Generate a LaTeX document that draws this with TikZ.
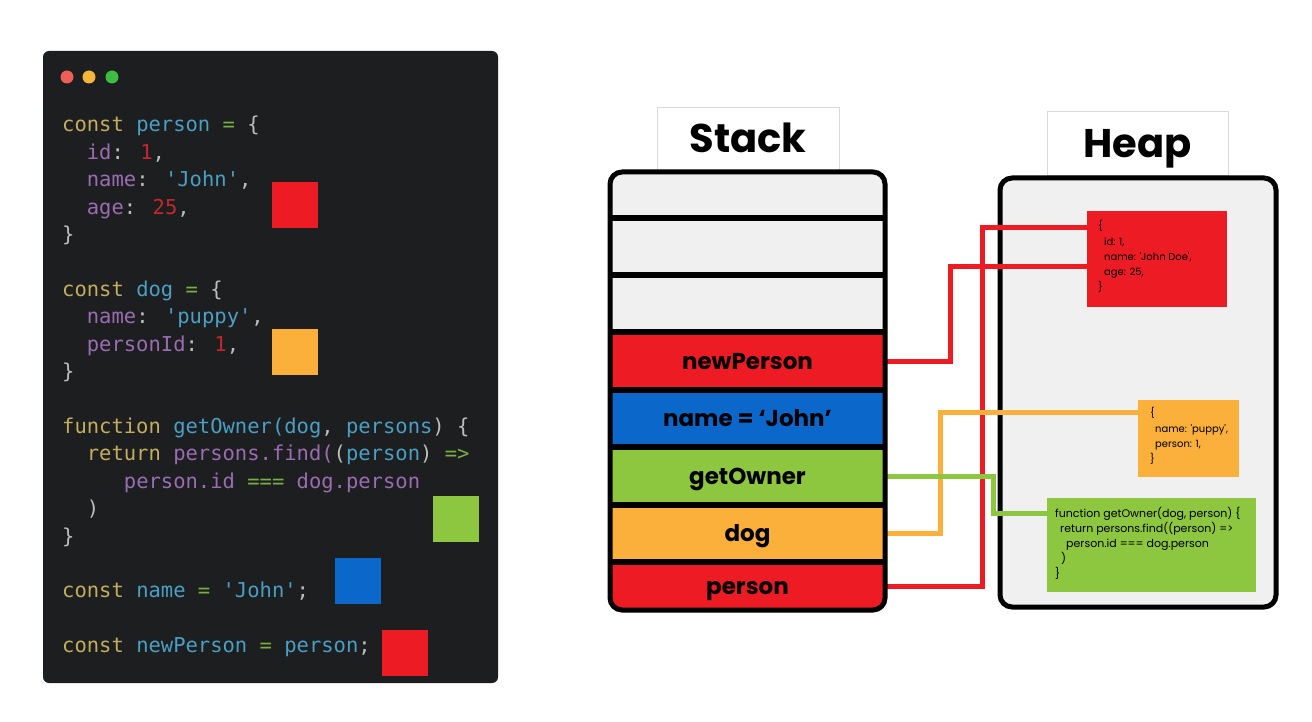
\documentclass[tikz,border=0pt]{standalone}
\usepackage{fontspec}
\usetikzlibrary{calc}
\newfontfamily\codefont{DejaVu Sans Mono}
\newfontfamily\popfont{Poppins}
\definecolor{cbg}{HTML}{1D1E20}
\definecolor{ckw}{HTML}{C4AE5E}
\definecolor{cid}{HTML}{4A9FC4}
\definecolor{cop}{HTML}{78B043}
\definecolor{cpu}{HTML}{BDBDBD}
\definecolor{cpr}{HTML}{9A6CB2}
\definecolor{cnm}{HTML}{C4282D}
\definecolor{dred}{HTML}{ED5F57}
\definecolor{dorg}{HTML}{F5B73A}
\definecolor{dgrn}{HTML}{3DBD3F}
\definecolor{bred}{HTML}{ED1C24}
\definecolor{borg}{HTML}{FBB03B}
\definecolor{bgrn}{HTML}{8DC63F}
\definecolor{bblu}{HTML}{0B67C9}
\definecolor{pale}{HTML}{F0F0F0}
\newcommand\tKw[1]{\textcolor{ckw}{#1}}
\newcommand\tId[1]{\textcolor{cid}{#1}}
\newcommand\tOp[1]{\textcolor{cop}{#1}}
\newcommand\tPu[1]{\textcolor{cpu}{#1}}
\newcommand\tPr[1]{\textcolor{cpr}{#1}}
\newcommand\tNm[1]{\textcolor{cnm}{#1}}
\newcommand\sq{\textquotesingle}
\tikzset{
  codeline/.style={anchor=base west, inner sep=0pt, font=\codefont\fontsize{20.5}{24}\selectfont},
  square/.style={minimum width=46pt, minimum height=46pt, inner sep=0pt},
  row/.style={minimum width=275pt, inner sep=0pt, text height=17pt, text depth=1pt, font=\popfont\bfseries\fontsize{23}{26}\selectfont},
  titlebox/.style={draw=black!15, line width=0.8pt, fill=white, inner sep=0pt, font=\popfont\bfseries\fontsize{40}{44}\selectfont, text height=29pt, text depth=0pt},
  heapobj/.style={inner sep=0pt},
  heapline/.style={anchor=base west, inner sep=0pt, font=\popfont\fontsize{10}{12}\selectfont},
  heaplinebig/.style={heapline, font=\popfont\fontsize{11}{13}\selectfont},
  conn/.style={line width=5pt, draw=#1},
  sep/.style={line width=6pt, draw=black},
}
\newcommand\cl[3]{\node[codeline] (#1) at (62,{132+27.4*#2}) {#3};}
\begin{document}
\begin{tikzpicture}[x=1pt,y=-1pt]
\useasboundingbox (0,0) rectangle (1312,722);
\fill[white] (0,0) rectangle (1312,722);
% code panel
\fill[cbg, rounded corners=6pt] (43,51) rectangle (498,683);
\fill[dred] (67,77) circle (6.5);
\fill[dorg] (89,77) circle (6.5);
\fill[dgrn] (112,77) circle (6.5);
\cl{c0}{0}{\tKw{const} \tId{person} \tOp{=} \tPu{\{}}
\cl{c1}{1}{~~\tPr{id}\tPu{:} \tNm{1}\tPu{,}}
\cl{c2}{2}{~~\tPr{name}\tPu{:} \tId{\sq John\sq}\tPu{,}}
\cl{c3}{3}{~~\tPr{age}\tPu{:} \tNm{25}\tPu{,}}
\cl{c4}{4}{\tPu{\}}}
\cl{c6}{6}{\tKw{const} \tId{dog} \tOp{=} \tPu{\{}}
\cl{c7}{7}{~~\tPr{name}\tPu{:} \tId{\sq puppy\sq}\tPu{,}}
\cl{c8}{8}{~~\tPr{personId}\tPu{:} \tNm{1}\tPu{,}}
\cl{c9}{9}{\tPu{\}}}
\cl{c11}{11}{\tKw{function} \tId{getOwner(dog}\tPu{,} \tId{persons}\tPu{)} \tPu{\{}}
\cl{c12}{12}{~~\tKw{return} \tPr{persons.find(}\tPu{(}\tId{person}\tPu{)} \tOp{=>}}
\cl{c13}{13}{~~~~~\tPr{person.id} \tOp{===} \tPr{dog.person}}
\cl{c14}{14}{~~\tPu{)}}
\cl{c15}{15}{\tPu{\}}}
\cl{c17}{17}{\tKw{const} \tId{name} \tOp{=} \tId{\sq John\sq}\tPu{;}}
\cl{c19}{19}{\tKw{const} \tId{newPerson} \tOp{=} \tId{person}\tPu{;}}
\node[square, fill=bred] (sq1) at (295,205) {};
\node[square, fill=borg] (sq2) at (295,351.5) {};
\node[square, fill=bgrn] (sq3) at (455.5,518.5) {};
\node[square, fill=bblu] (sq4) at (358,580.5) {};
\node[square, fill=bred] (sq5) at (405,652.5) {};
% titles
\node[titlebox, minimum width=182pt, minimum height=63pt] (stt) at (748,138.5) {Stack};
\node[titlebox, minimum width=181pt, minimum height=64pt] (htt) at (1137.5,143) {Heap};
% stack
\begin{scope}
\clip[rounded corners=12pt] (610,172) rectangle (885,610);
\fill[pale] (610,172) rectangle (885,610);
\node[row, fill=bred, minimum height=58pt] (np) at (747.5,361) {newPerson};
\node[row, fill=bblu, minimum height=57pt] (nm) at (747.5,418.5) {name = ‘John’};
\node[row, fill=bgrn, minimum height=58pt] (go) at (747.5,476) {getOwner};
\node[row, fill=borg, minimum height=57pt] (dg) at (747.5,533.5) {dog};
\node[row, fill=bred, minimum height=48pt] (ps) at (747.5,586) {person};
\foreach \yy in {218,275,332,390,447,505,562} \draw[sep] (610,\yy) -- (885,\yy);
\end{scope}
% heap
\filldraw[fill=pale, draw=black, line width=5pt, rounded corners=12pt] (1000,178) rectangle (1276,607);
\node[heapobj, fill=bred, minimum width=140pt, minimum height=96pt] (hp) at (1157,259) {};
\node[heapobj, fill=borg, minimum width=101pt, minimum height=77pt] (hd) at (1188.5,438.5) {};
\node[heapobj, fill=bgrn, minimum width=209pt, minimum height=94pt] (hf) at (1151.5,545) {};
\node[heapline] (hp1) at (1098,230) {\{};
\node[heapline] (hp2) at (1104,245) {id: 1,};
\node[heapline] (hp3) at (1104,260) {name: 'John Doe',};
\node[heapline] (hp4) at (1104,275) {age: 25,};
\node[heapline] (hp5) at (1098,290) {\}};
\node[heapline] (hd1) at (1150,416) {\{};
\node[heapline] (hd2) at (1155,432) {name: 'puppy',};
\node[heapline] (hd3) at (1155,447) {person: 1,};
\node[heapline] (hd4) at (1150,462) {\}};
\node[heaplinebig] (hf1) at (1055,517) {function getOwner(dog, person) \{};
\node[heaplinebig] (hf2) at (1060,532) {return persons.find((person) =>};
\node[heaplinebig] (hf3) at (1066,547) {person.id === dog.person};
\node[heaplinebig] (hf4) at (1061,562) {)};
\node[heaplinebig] (hf5) at (1055,577) {\}};
% connectors
\draw[conn=bred] (np.east) -- ++(65,0) |- ($(hp.north west)+(0,56)$);
\draw[conn=bred] (ps.east) -- ++(97,0) |- ($(hp.north west)+(0,17)$);
\draw[conn=borg] (dg.east) -- ++(55,0) |- ($(hd.north west)+(0,13)$);
\draw[conn=bgrn] (go.east) -- ++(108,0) |- ($(hf.north west)+(0,16)$);
% stack border
\draw[line width=5pt, rounded corners=12pt] (610,172) rectangle (885,610);
\end{tikzpicture}
\end{document}
